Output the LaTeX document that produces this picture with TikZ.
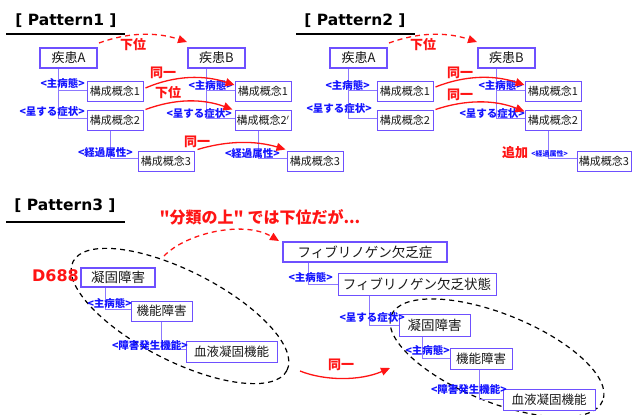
\documentclass[tikz,border=0pt]{standalone}
\usepackage{fontspec}
\setmainfont{DejaVu Sans}
\newfontfamily\cjk{Noto Sans CJK JP}
\usetikzlibrary{arrows.meta}
\definecolor{boxc}{RGB}{110,80,255}
\definecolor{linec}{RGB}{140,120,255}
\definecolor{labc}{RGB}{20,20,255}
\definecolor{redc}{RGB}{255,20,20}
\begin{document}
\begin{tikzpicture}[x=1pt,y=-1pt,
 bx/.style={draw=boxc, line width=1pt, fill=white, inner sep=0pt, font=\cjk\fontsize{11}{12}\selectfont, text=black!90},
 bigbx/.style={bx, font=\cjk\fontsize{13.5}{15}\selectfont},
 tbx/.style={bigbx, line width=2pt},
 conn/.style={draw=linec, line width=1pt},
 lab/.style={text=labc, font=\cjk\bfseries\fontsize{10.5}{11}\selectfont, inner sep=0pt, anchor=east},
 slab/.style={lab, font=\cjk\bfseries\fontsize{7}{8}\selectfont},
 rlab/.style={text=redc, font=\cjk\bfseries\fontsize{13}{14}\selectfont, inner sep=0pt},
 rarr/.style={draw=redc, line width=1.3pt, -{Triangle[length=9pt,width=8pt]}},
 rdash/.style={rarr, dash pattern=on 5pt off 4pt},
 ttl/.style={font=\bfseries\fontsize{15.5}{18}\selectfont, inner sep=0pt},
 uline/.style={draw=black, line width=2pt},
 oval/.style={draw=black, line width=1.2pt, dash pattern=on 5pt off 4pt},
]
\fill[white] (0,0) rectangle (632,415);
\useasboundingbox (0,0) rectangle (632,415);

% ---------- titles ----------
\node[ttl] (t1) at (66,21) {[ Pattern1 ]};
\draw[uline] (6,33.5) -- (125,33.5);
\node[ttl] (t2) at (355,21) {[ Pattern2 ]};
\draw[uline] (296,33.5) -- (415,33.5);
\node[ttl] (t3) at (65,206) {[ Pattern3 ]};
\draw[uline] (6,222) -- (125,222);

% ---------- Pattern 1 ----------
\node[tbx, minimum width=57pt, minimum height=20pt, font=\cjk\fontsize{13}{15}\selectfont] (pA) at (68.5,58) {疾患A};
\node[tbx, minimum width=57pt, minimum height=20pt, font=\cjk\fontsize{13}{15}\selectfont] (pB) at (216.5,58) {疾患B};
\node[bx, minimum width=56pt, minimum height=20pt] (c1) at (115,91) {構成概念1};
\node[bx, minimum width=56pt, minimum height=20pt] (c2) at (115,120) {構成概念2};
\node[bx, minimum width=56pt, minimum height=20pt] (c3) at (166,161) {構成概念3};
\node[bx, minimum width=56pt, minimum height=20pt] (d1) at (263,91) {構成概念1};
\node[bx, minimum width=56pt, minimum height=20pt] (d2) at (263,120) {構成概念2$'$};
\node[bx, minimum width=56pt, minimum height=20pt] (d3) at (315,161) {構成概念3};
\draw[conn] ([xshift=19pt]pA.south west) |- ([yshift=1pt]c1.west);
\draw[conn] ([xshift=19pt]pA.south west) |- ([yshift=2pt]c2.west);
\draw[conn] ([xshift=19pt]pB.south west) |- ([yshift=1pt]d1.west);
\draw[conn] ([xshift=19pt]pB.south west) |- ([yshift=2pt]d2.west);
\draw[conn] ([xshift=24pt]c2.south west) |- ([yshift=3pt]c3.west);
\draw[conn] ([xshift=24pt]d2.south west) |- ([yshift=3pt]d3.west);
\node[lab] (l1) at (85,83) {<主病態>};
\node[lab] (l2) at (85,111) {<呈する症状>};
\node[lab] (l3) at (133,153) {<経過属性>};
\node[lab] (l4) at (233,85) {<主病態>};
\node[lab] (l5) at (232,113) {<呈する症状>};
\node[lab] (l6) at (280,154) {<経過属性>};
\draw[rdash] ([shift={(1pt,4pt)}]pA.north east) .. controls +(30,-11) and +(-30,-10) .. ([yshift=5pt]pB.north west);
\node[rlab] (r1) at (133,45) {下位};
\draw[rarr] ([shift={(2pt,3pt)}]c1.east) .. controls +(30,-13) and +(-30,-10) .. ([yshift=6pt]d1.west);
\node[rlab] (r2) at (163,73) {同一};
\draw[rarr] ([xshift=2pt]c2.north east) .. controls +(30,-11) and +(-30,-11) .. ([xshift=-2pt]d2.north west);
\node[rlab] (r3) at (168,93) {下位};
\draw[rarr] ([shift={(3pt,1pt)}]c3.north east) .. controls +(30,-9) and +(-30,-9) .. ([shift={(-1pt,1pt)}]d3.north west);
\node[rlab] (r4) at (197,142) {同一};

% ---------- Pattern 2 ----------
\node[tbx, minimum width=57pt, minimum height=20pt, font=\cjk\fontsize{13}{15}\selectfont] (qA) at (358.5,58) {疾患A};
\node[tbx, minimum width=57pt, minimum height=20pt, font=\cjk\fontsize{13}{15}\selectfont] (qB) at (506.5,58) {疾患B};
\node[bx, minimum width=56pt, minimum height=20pt] (e1) at (405,91) {構成概念1};
\node[bx, minimum width=56pt, minimum height=20pt] (e2) at (405,120) {構成概念2};
\node[bx, minimum width=56pt, minimum height=20pt] (f1) at (553,91) {構成概念1};
\node[bx, minimum width=56pt, minimum height=20pt] (f2) at (553,120) {構成概念2};
\node[bx, minimum width=54pt, minimum height=20pt] (f3) at (604,161) {構成概念3};
\draw[conn] ([xshift=19pt]qA.south west) |- ([yshift=1pt]e1.west);
\draw[conn] ([xshift=19pt]qA.south west) |- ([yshift=2pt]e2.west);
\draw[conn] ([xshift=19pt]qB.south west) |- ([yshift=1pt]f1.west);
\draw[conn] ([xshift=19pt]qB.south west) |- ([yshift=2pt]f2.west);
\draw[conn] ([xshift=24pt]f2.south west) |- ([yshift=3pt]f3.west);
\node[lab] (m1) at (370,85) {<主病態>};
\node[lab] (m2) at (372,108) {<呈する症状>};
\node[lab] (m3) at (523,85) {<主病態>};
\node[lab] (m4) at (525,113) {<呈する症状>};
\node[slab] (m5) at (568,154) {<経過属性>};
\node[rlab] (s5) at (515,153) {追加};
\draw[rdash] ([shift={(1pt,4pt)}]qA.north east) .. controls +(30,-11) and +(-30,-10) .. ([yshift=5pt]qB.north west);
\node[rlab] (s1) at (423,45) {下位};
\draw[rarr] ([shift={(2pt,4pt)}]e1.east) .. controls +(30,-12) and +(-30,-10) .. ([yshift=6pt]f1.west);
\node[rlab] (s2) at (460,73) {同一};
\draw[rarr] ([xshift=2pt]e2.north east) .. controls +(30,-10) and +(-30,-12) .. ([yshift=-2pt]f2.north west);
\node[rlab] (s3) at (460,95) {同一};

% ---------- Pattern 3 ----------
\draw[oval, rotate around={-27:(180,316)}] (180,316) ellipse [x radius=120, y radius=45];
\draw[oval, rotate around={-22:(497,358)}] (497,358) ellipse [x radius=114, y radius=44];
\node[text=redc, font=\cjk\bfseries\fontsize{16}{18}\selectfont, inner sep=0pt] (hd) at (260,217) {"分類の上" では下位だが...};
\node[text=redc, font=\bfseries\fontsize{16}{18}\selectfont, inner sep=0pt, anchor=east] (dd) at (79,276) {D688};
\node[tbx, minimum width=74pt, minimum height=19pt] (g1) at (118,277.5) {凝固障害};
\node[bigbx, minimum width=61pt, minimum height=20pt, font=\cjk\fontsize{12.5}{14}\selectfont] (g2) at (161.5,311) {機能障害};
\node[bigbx, minimum width=91pt, minimum height=21pt, font=\cjk\fontsize{12.5}{14}\selectfont] (g3) at (231.5,351.5) {血液凝固機能};
\node[tbx, minimum width=164pt, minimum height=20pt] (h1) at (365,252) {フィブリノゲン欠乏症};
\node[bigbx, minimum width=158pt, minimum height=22pt] (h2) at (417,284) {フィブリノゲン欠乏状態};
\node[bigbx, minimum width=71pt, minimum height=22pt] (h3) at (434.5,325) {凝固障害};
\node[bigbx, minimum width=62pt, minimum height=21pt, font=\cjk\fontsize{12.5}{14}\selectfont] (h4) at (481,358.5) {機能障害};
\node[bigbx, minimum width=92pt, minimum height=21pt, font=\cjk\fontsize{12.5}{14}\selectfont] (h5) at (549,399.5) {血液凝固機能};
\draw[conn] ([xshift=25pt]g1.south west) |- ([yshift=2pt]g2.west);
\draw[conn] ([xshift=31pt]g2.south west) |- ([yshift=2pt]g3.west);
\draw[conn] ([xshift=26pt]h1.south west) |- (h2.west);
\draw[conn] ([xshift=32pt]h2.south west) |- (h3.west);
\draw[conn] ([xshift=24pt]h3.south west) |- (h4.west);
\draw[conn] ([xshift=30pt]h4.south west) |- (h5.west);
\node[lab] (n1) at (132,303) {<主病態>};
\node[lab] (n2) at (188,345) {<障害発生機能>};
\node[lab] (n3) at (333,277) {<主病態>};
\node[lab] (n4) at (405,317) {<呈する症状>};
\node[lab] (n5) at (450,350) {<主病態>};
\node[lab] (n6) at (507,389) {<障害発生機能>};
\draw[rdash] ([shift={(8pt,11pt)}]g1.north east) .. controls +(22,-23) and +(-35,-21) .. ([shift={(-3pt,11pt)}]h1.west);
\coordinate (sa) at (300,371);
\coordinate (sb) at (390,368);
\draw[rarr] (sa) .. controls (325,381) and (360,381) .. (sb);
\node[rlab] (u1) at (341,365) {同一};
\end{tikzpicture}
\end{document}
